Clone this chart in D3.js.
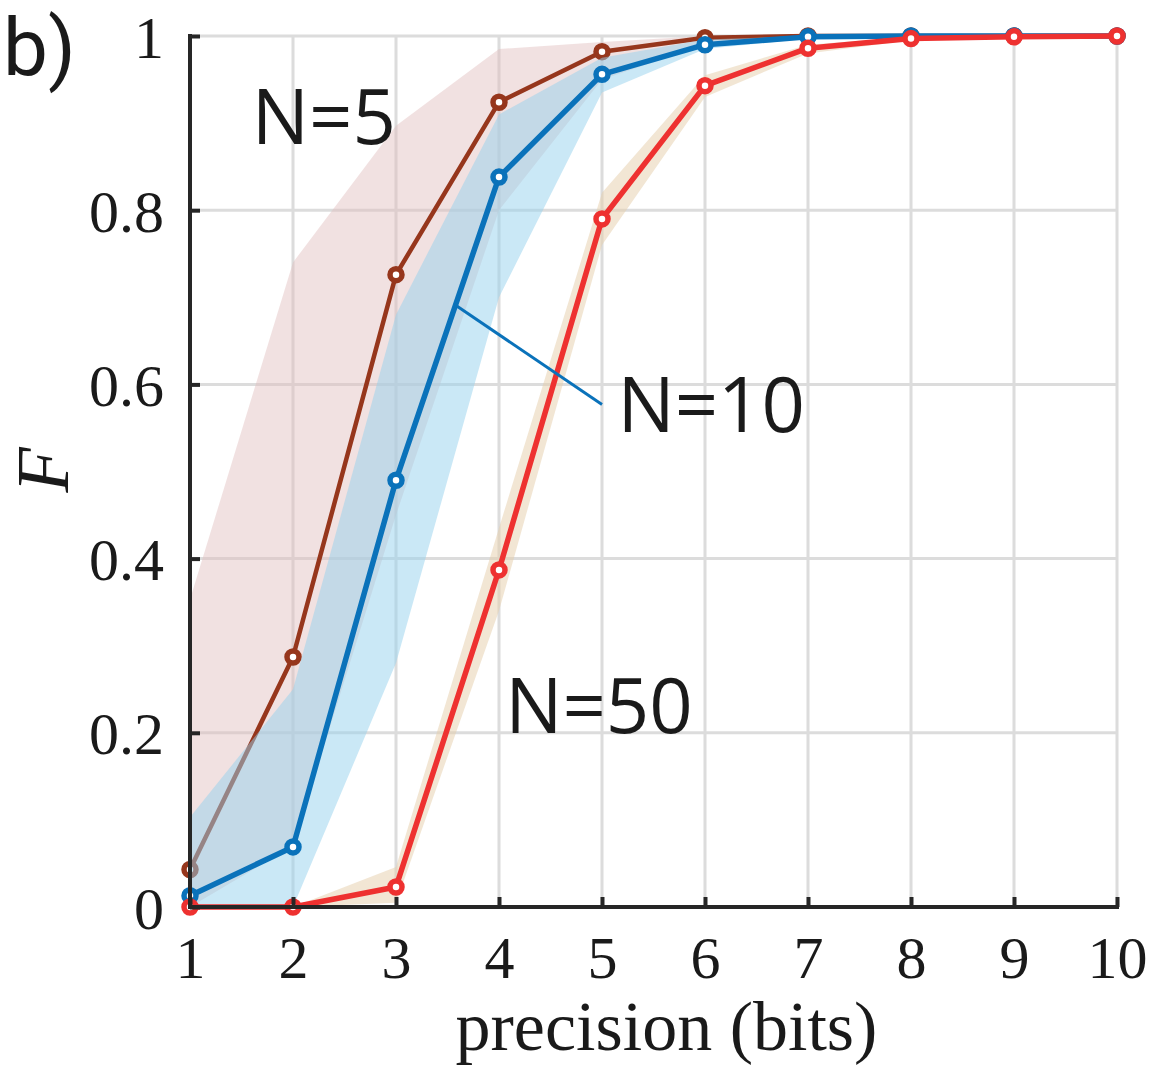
<!DOCTYPE html>
<html>
<head>
<meta charset="utf-8">
<script src="https://cdn.jsdelivr.net/npm/d3@7"></script>
<style>
  html, body { margin: 0; padding: 0; background: #fff; }
  svg { display: block; }
</style>
</head>
<body>
<svg id="chart" width="1153" height="1071"></svg>
<script>
// ---- data ----
const bits = [1, 2, 3, 4, 5, 6, 7, 8, 9, 10];
const xTicks = [1, 2, 3, 4, 5, 6, 7, 8, 9, 10];
const yTicks = [0, 0.2, 0.4, 0.6, 0.8, 1];
const yTickLabels = ["0", "0.2", "0.4", "0.6", "0.8", "1"];

const fN5   = [0.043, 0.287, 0.726, 0.924, 0.982, 0.998, 1.0, 1.0, 1.0, 1.0];
const fN5Lo = [0.0, 0.07, 0.45, 0.80, 0.95, 0.99, 0.999, 1.0, 1.0, 1.0];
const fN5Hi = [0.353, 0.74, 0.897, 0.985, 0.993, 1.0, 1.0, 1.0, 1.0, 1.0];

const fN10   = [0.013, 0.069, 0.49, 0.838, 0.956, 0.99, 0.999, 1.0, 1.0, 1.0];
const fN10Lo = [0.0, 0.0, 0.28, 0.70, 0.935, 0.985, 0.997, 1.0, 1.0, 1.0];
const fN10Hi = [0.103, 0.25, 0.68, 0.91, 0.975, 0.996, 1.0, 1.0, 1.0, 1.0];

const fN50   = [0.0, 0.0, 0.023, 0.387, 0.79, 0.943, 0.986, 0.997, 0.999, 1.0];
const fN50Lo = [0.0, 0.0, 0.005, 0.34, 0.76, 0.93, 0.98, 0.995, 0.999, 1.0];
const fN50Hi = [0.0, 0.0, 0.046, 0.435, 0.82, 0.955, 0.99, 0.999, 1.0, 1.0];

const labels = [
  { text: "N=5",  x: 1.60, y: 0.876 },
  { text: "N=10", x: 5.15, y: 0.545 },
  { text: "N=50", x: 4.06, y: 0.200 }
];
const pointer = [{ x: 3.59, y: 0.690 }, { x: 5.00, y: 0.577 }];

// ---- layout ----
const svg = d3.select("#chart");
const x = d3.scaleLinear().domain([1, 10]).range([190, 1117]);
const y = d3.scaleLinear().domain([0, 1]).range([907, 36]);

const gridColor = "#dcdcdc";
const axisColor = "#262626";

// grid
const grid = svg.append("g");
grid.selectAll("line.gx").data(xTicks.slice(1)).join("line")
  .attr("x1", d => x(d)).attr("x2", d => x(d))
  .attr("y1", y(0)).attr("y2", y(1))
  .attr("stroke", gridColor).attr("stroke-width", 3);
grid.selectAll("line.gy").data(yTicks.slice(1)).join("line")
  .attr("y1", d => y(d)).attr("y2", d => y(d))
  .attr("x1", x(1)).attr("x2", x(10))
  .attr("stroke", gridColor).attr("stroke-width", 3);

// series
const series = [
  { v: fN5,  lo: fN5Lo,  hi: fN5Hi,  line: "#96361c", band: "rgb(225,188,188)", bandOp: 0.45, lw: 4.5 },
  { v: fN10, lo: fN10Lo, hi: fN10Hi, line: "#0a72ba", band: "rgb(150,210,238)", bandOp: 0.5, lw: 5.5 },
  { v: fN50, lo: fN50Lo, hi: fN50Hi, line: "#ee3130", band: "rgb(229,205,170)", bandOp: 0.5, lw: 5.5 }
];

const area = d3.area()
  .x((d, i) => x(bits[i]))
  .y0(d => y(d[0]))
  .y1(d => y(d[1]));
const line = d3.line()
  .x((d, i) => x(bits[i]))
  .y(d => y(d));

const dataG = svg.append("g");
series.forEach(s => {
  const pts = s.lo.map((l, i) => [l, s.hi[i]]);
  dataG.append("path").datum(pts)
    .attr("d", area)
    .attr("fill", s.band).attr("fill-opacity", s.bandOp).attr("stroke", "none");
  dataG.append("path").datum(s.v)
    .attr("d", line)
    .attr("fill", "none").attr("stroke", s.line)
    .attr("stroke-width", s.lw).attr("stroke-linejoin", "round");
  dataG.append("g").selectAll("circle").data(s.v).join("circle")
    .attr("cx", (d, i) => x(bits[i])).attr("cy", d => y(d))
    .attr("r", 6)
    .attr("fill", "#fff").attr("stroke", s.line).attr("stroke-width", 5.5);
});

// pointer line for N=10
svg.append("line")
  .attr("x1", x(pointer[0].x)).attr("y1", y(pointer[0].y))
  .attr("x2", x(pointer[1].x)).attr("y2", y(pointer[1].y))
  .attr("stroke", "#0a72ba").attr("stroke-width", 3);

// axes
const xAxis = d3.axisBottom(x).tickValues(xTicks).tickSizeInner(-10).tickSizeOuter(0)
  .tickFormat(d3.format("d")).tickPadding(20);
const gx = svg.append("g").attr("transform", `translate(0,${y(0)})`).call(xAxis);
gx.select(".domain").attr("stroke", axisColor).attr("stroke-width", 4)
  .attr("d", `M${x(1) - 2},0H${x(10) + 2}`);
gx.selectAll(".tick line").attr("stroke", axisColor).attr("stroke-width", 4);
gx.selectAll(".tick text")
  .attr("font-family", "'Liberation Serif', 'Times New Roman', serif")
  .attr("font-size", 60).attr("fill", "#1a1a1a")
  .attr("dy", null).attr("y", 71);

const yAxis = d3.axisLeft(y).tickValues(yTicks).tickSizeInner(-10).tickSizeOuter(0)
  .tickFormat((d, i) => yTickLabels[i]);
const gy = svg.append("g").attr("transform", `translate(${x(1)},0)`).call(yAxis);
gy.select(".domain").attr("stroke", axisColor).attr("stroke-width", 4)
  .attr("d", `M0,${y(0) + 2}V${y(1) - 2}`);
gy.selectAll(".tick line").attr("stroke", axisColor).attr("stroke-width", 4);
gy.selectAll(".tick text")
  .attr("font-family", "'Liberation Serif', 'Times New Roman', serif")
  .attr("font-size", 60).attr("fill", "#1a1a1a")
  .attr("x", -26).attr("dy", null).attr("y", 21);

// axis titles
svg.append("text")
  .attr("x", (x(1) + x(10)) / 2 + 13).attr("y", 1050)
  .attr("text-anchor", "middle")
  .attr("font-family", "'Liberation Serif', 'Times New Roman', serif")
  .attr("font-size", 70).attr("fill", "#1a1a1a")
  .text("precision (bits)");

svg.append("text")
  .attr("transform", `translate(68,${470}) rotate(-90)`)
  .attr("text-anchor", "middle")
  .attr("font-family", "'Liberation Serif', 'Times New Roman', serif")
  .attr("font-style", "italic")
  .attr("font-size", 74).attr("fill", "#1a1a1a")
  .text("F");

// series labels
svg.append("g").selectAll("text").data(labels).join("text")
  .attr("x", d => x(d.x)).attr("y", d => y(d.y))
  .attr("font-family", "'Open Sans', 'Noto Sans', sans-serif")
  .attr("font-size", 76).attr("fill", "#1a1a1a")
  .text(d => d.text);

// panel letter
svg.append("text")
  .attr("x", 3).attr("y", 75)
  .attr("font-family", "Roboto, 'Open Sans', sans-serif")
  .attr("font-size", 80).attr("fill", "#1a1a1a")
  .text("b)");
</script>
</body>
</html>
